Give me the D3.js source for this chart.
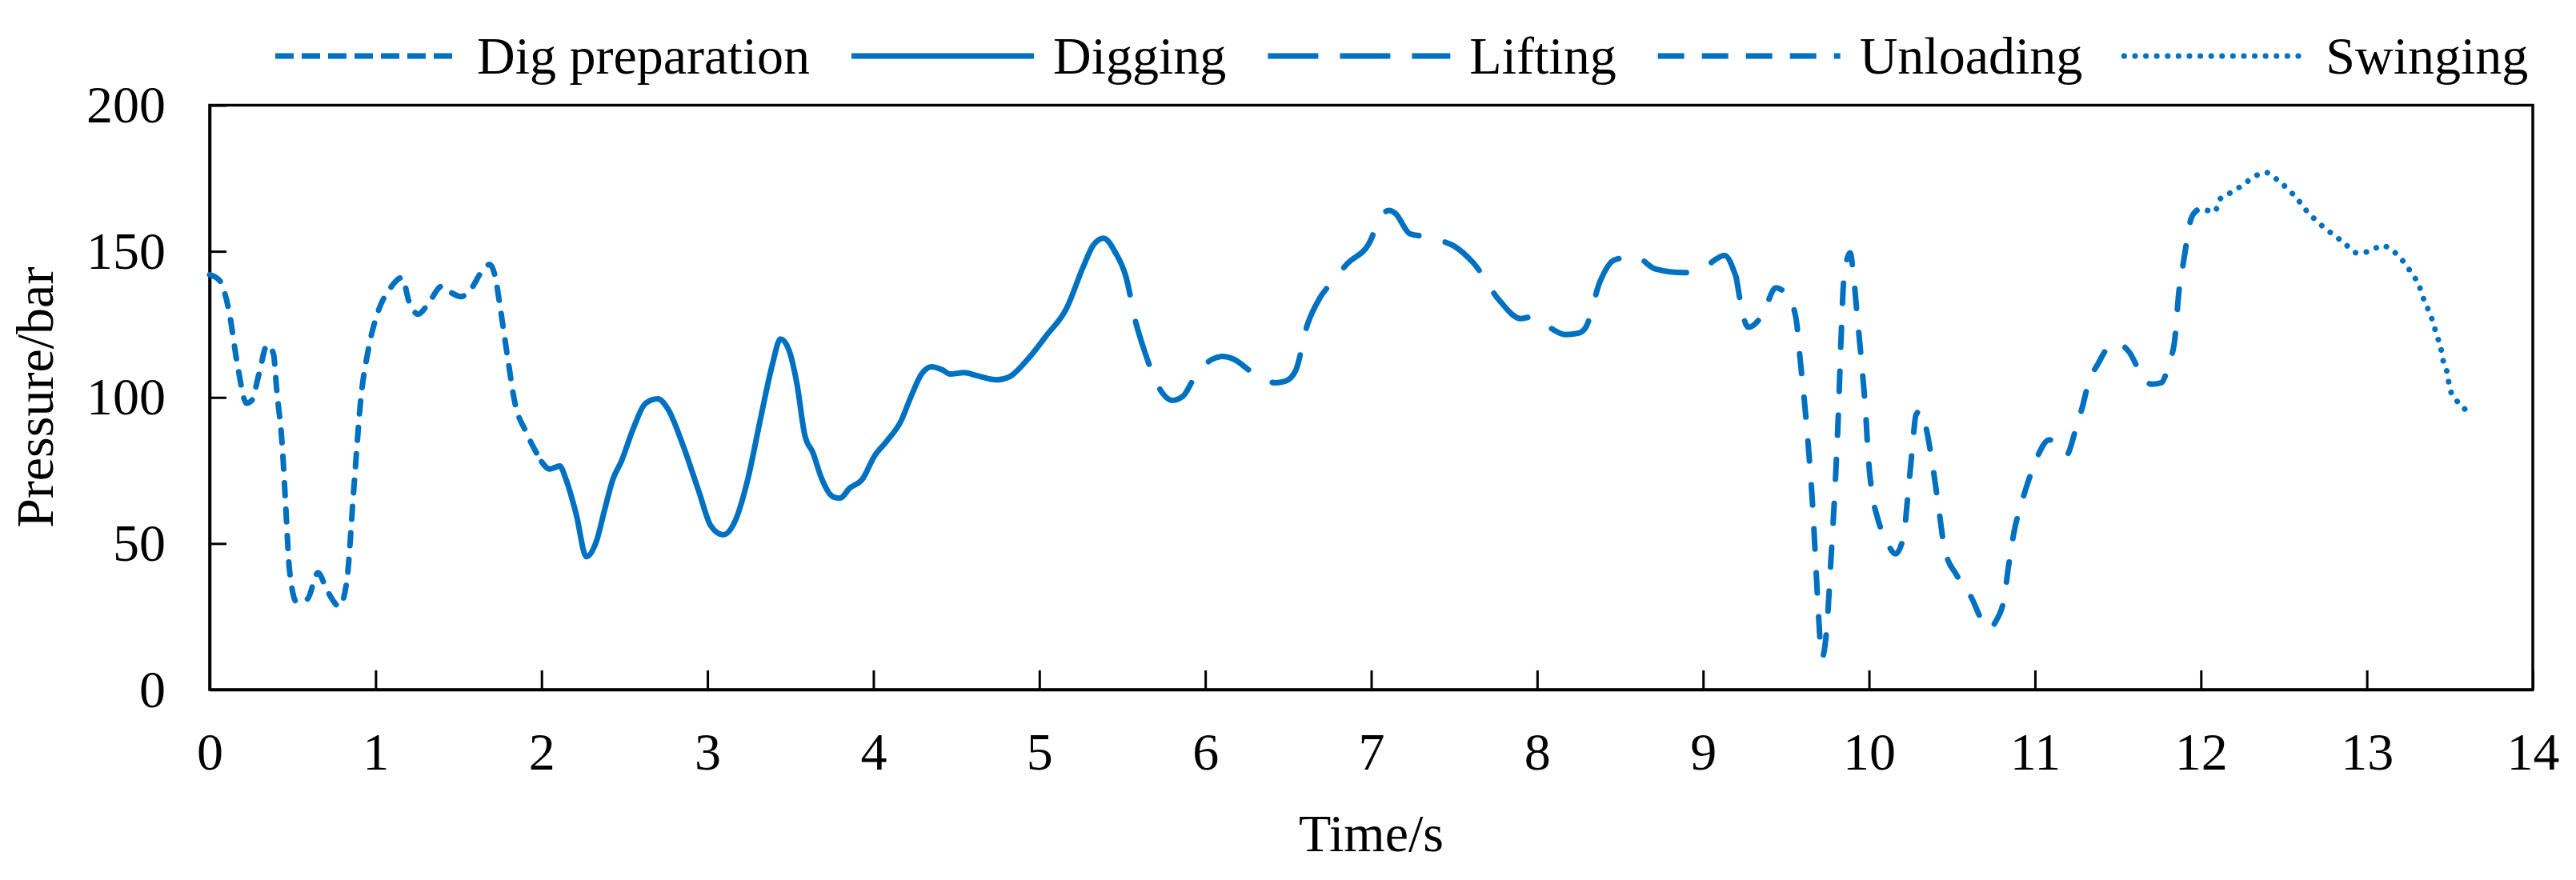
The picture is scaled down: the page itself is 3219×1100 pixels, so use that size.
<!DOCTYPE html>
<html>
<head>
<meta charset="utf-8">
<script src="https://cdn.jsdelivr.net/npm/d3@7"></script>
<style>
html, body { margin: 0; padding: 0; background: #fff; }
svg { display: block; }
text { font-family: "Liberation Serif", "Times New Roman", serif; fill: #000; }
</style>
</head>
<body>
<svg id="chart" width="3219" height="1100"></svg>
<script>
// ---------------- data ----------------
const xTickValues = [0,1,2,3,4,5,6,7,8,9,10,11,12,13,14];
const yTickValues = [0,50,100,150,200];
const phaseNames = ["Dig preparation", "Digging", "Lifting", "Unloading", "Swinging"];

const digPrepTime = [0,0.06,0.115,0.168,0.222,0.254,0.297,0.347,0.384,0.405,0.438,0.459,0.481,0.524,0.589,0.653,0.707,0.782,0.826,0.869,0.912,0.955,1.019,1.084,1.159,1.203,1.257,1.322,1.397,1.451,1.515,1.58,1.633,1.688,1.72,1.753,1.796,1.84,1.904,1.96,2.0];
const digPrepPressure = [142,140,130,111,98,99,108,118,115,102,83,62,41,30,31,40,34,28.5,37,69,100,116,130,137,141,132.5,128.5,132.5,138,136,134.5,137.5,142.5,145.5,141.5,130,113.5,98,88.5,82,78];

const diggingTime = [2.0,2.048,2.11,2.147,2.209,2.27,2.332,2.38,2.43,2.48,2.554,2.627,2.70,2.762,2.85,2.947,3.021,3.095,3.169,3.243,3.317,3.39,3.44,3.489,3.538,3.587,3.636,3.686,3.756,3.798,3.858,3.933,4.007,4.08,4.167,4.228,4.29,4.35,4.413,4.461,4.548,4.62,4.745,4.818,4.929,5.04,5.164,5.263,5.324,5.386,5.459];
const diggingPressure = [78,75.5,76.5,72,60,45.5,51,61.5,72,78,89.5,98,99.5,96,84,68,56,53,58,72,92,111,120,116.5,105,87,81,72.5,66,65.5,69,72,80,85,92,100.5,108,110.5,109.5,108,108.5,107.5,106,107,113,121,130.5,144.5,152,154.5,149.5];

const liftingTime = [5.459,5.521,5.582,5.63,5.742,5.8,5.867,5.927,6.039,6.1,6.174,6.272,6.35,6.42,6.48,6.543,6.616,6.69,6.764,6.86,6.985,7.06,7.107,7.145,7.233,7.33,7.426,7.493,7.616,7.775,7.9,7.961,8.072,8.17,8.25,8.293,8.378,8.465,8.589,8.711,8.886,9.007,9.13,9.2];
const liftingPressure = [149.5,141.5,125.5,116.5,101.5,99,100.5,106,113,114,113,109,106.5,105,105.5,109,125,134,139.5,146,152.5,162,164,163,156,155,153.5,152,146,133,127,127.5,124,121.5,122,124,139.5,147,148.3,144,142.7,144.6,148.6,141];

const unloadingTime = [9.2,9.273,9.36,9.438,9.512,9.56,9.585,9.61,9.636,9.66,9.678,9.693,9.717,9.746,9.77,9.795,9.815,9.831,9.849,9.886,9.906,9.93,9.955,9.98,9.995,10.016,10.05,10.1,10.16,10.21,10.23,10.26,10.283,10.31,10.34,10.38,10.42,10.456,10.53,10.617,10.678,10.73,10.765,10.815,10.84,10.874,10.92,10.955,11.013,11.086,11.14,11.192,11.24,11.287,11.32,11.38,11.452,11.51,11.568,11.63,11.7,11.76,11.81,11.844,11.867,11.89,11.915,11.94,11.975];
const unloadingPressure = [141,124,128.5,137.5,134.5,127,113,99,82,63,44,28,11,21.5,44,69,94,119.5,141,149.5,142,127,112,94.5,80,68,59,51.5,46.5,53,64,82,94,95.5,90.5,78,62,48,39,31.5,24,21,23.5,31.5,42,54,64,70.5,79.5,85.5,83,80.5,88,97,104.5,111.5,117.5,118,115.5,109,104.5,105,112,120.5,136,144.5,153.5,161,164];

const swingingTime = [11.975,12.034,12.082,12.117,12.177,12.248,12.32,12.39,12.46,12.52,12.58,12.627,12.686,12.745,12.803,12.87,12.935,13.018,13.09,13.16,13.22,13.27,13.313,13.34,13.37,13.4,13.42,13.447,13.46,13.486,13.5,13.54,13.59];
const swingingPressure = [164,164,163.5,168,170,172.5,175.5,177,174.5,171.5,168,164.5,161,158,155.5,152.5,149.5,150,152,150,146.5,142.5,138.5,134,130,125.5,121.5,116.5,112.5,108,103,99,96];

const phaseTimes = [digPrepTime, diggingTime, liftingTime, unloadingTime, swingingTime];
const phasePressures = [digPrepPressure, diggingPressure, liftingPressure, unloadingPressure, swingingPressure];

// ---------------- styles ----------------
const lineColor = "#0070C0";
const dashStyles = ["16 17", null, "56 34", "25 30", "0.1 13.5"];

// ---------------- layout ----------------
const svg = d3.select("#chart");
const plot = { left: 262, right: 3165, top: 131.5, bottom: 862 };

const x = d3.scaleLinear().domain([0, 14]).range([plot.left, plot.right]);
const y = d3.scaleLinear().domain([0, 200]).range([plot.bottom, plot.top]);

// frame
svg.append("rect")
  .attr("x", plot.left).attr("y", plot.top)
  .attr("width", plot.right - plot.left).attr("height", plot.bottom - plot.top)
  .attr("fill", "none").attr("stroke", "#000").attr("stroke-width", 3.5);

// x axis
const xAxis = svg.append("g")
  .attr("transform", `translate(0,${plot.bottom})`)
  .call(d3.axisBottom(x).tickValues(xTickValues).tickFormat(d3.format("d"))
        .tickSizeInner(-24).tickSizeOuter(0).tickPadding(53));
xAxis.select(".domain").attr("stroke", "#000").attr("stroke-width", 3.5);
xAxis.selectAll(".tick line").attr("stroke", "#000").attr("stroke-width", 3);
xAxis.selectAll(".tick text").attr("font-size", 66)
  .attr("font-family", "'Liberation Serif', 'Times New Roman', serif").attr("fill", "#000");

// y axis
const yAxis = svg.append("g")
  .attr("transform", `translate(${plot.left},0)`)
  .call(d3.axisLeft(y).tickValues(yTickValues).tickFormat(d3.format("d"))
        .tickSizeInner(-21).tickSizeOuter(0).tickPadding(55));
yAxis.select(".domain").attr("stroke", "#000").attr("stroke-width", 3.5);
yAxis.selectAll(".tick line").attr("stroke", "#000").attr("stroke-width", 3);
yAxis.selectAll(".tick text").attr("font-size", 66)
  .attr("font-family", "'Liberation Serif', 'Times New Roman', serif").attr("fill", "#000");

// axis titles
svg.append("text")
  .attr("x", (plot.left + plot.right) / 2).attr("y", 1064)
  .attr("text-anchor", "middle").attr("font-size", 66)
  .text("Time/s");
svg.append("text")
  .attr("transform", `translate(66,${(plot.top + plot.bottom) / 2}) rotate(-90)`)
  .attr("text-anchor", "middle").attr("font-size", 66)
  .text("Pressure/bar");

// lines
const line = d3.line()
  .x(d => x(d[0])).y(d => y(d[1]))
  .curve(d3.curveMonotoneX);

phaseNames.forEach((name, i) => {
  const pts = phaseTimes[i].map((t, k) => [t, phasePressures[i][k]]);
  const p = svg.append("path")
    .datum(pts)
    .attr("d", line)
    .attr("fill", "none")
    .attr("stroke", lineColor)
    .attr("stroke-width", 7)
    .attr("stroke-linecap", "round")
    .attr("stroke-linejoin", "round");
  if (dashStyles[i]) p.attr("stroke-dasharray", dashStyles[i]);
});

// legend
const legend = svg.append("g");
let lx = 344;
const lineLen = 228, textGap = 24, itemGap = 52, ly = 70, ty = 92;
phaseNames.forEach((name, i) => {
  const l = legend.append("line")
    .attr("x1", lx).attr("x2", lx + lineLen)
    .attr("y1", ly).attr("y2", ly)
    .attr("stroke", lineColor).attr("stroke-width", 7)
    .attr("stroke-linecap", i === 4 ? "round" : "butt");
  if (dashStyles[i]) {
    const legendDash = ["23 10", null, "63 27", "33 22", "0.1 13.5"][i];
    l.attr("stroke-dasharray", legendDash);
  }
  const t = legend.append("text")
    .attr("x", lx + lineLen + textGap).attr("y", ty)
    .attr("font-size", 66)
    .text(name);
  const w = t.node().getComputedTextLength();
  lx = lx + lineLen + textGap + w + itemGap;
});
</script>
</body>
</html>
